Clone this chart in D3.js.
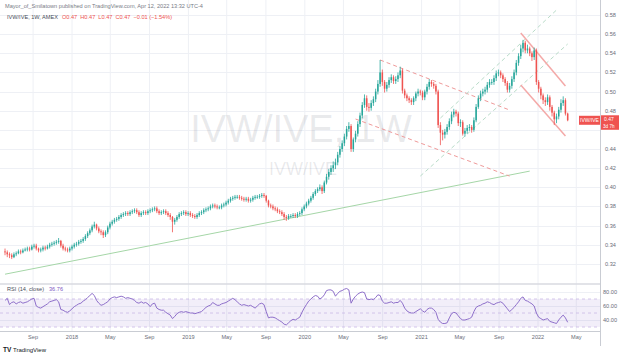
<!DOCTYPE html>
<html><head><meta charset="utf-8">
<script src="https://cdn.jsdelivr.net/npm/d3@7"></script>
<style>html,body{margin:0;padding:0;background:#fff;}svg{display:block;font-family:"Liberation Sans",Arial,sans-serif;}</style>
</head><body><svg id="c" width="624" height="356"></svg>
<script>
// ---------------- DATA ----------------
const startDate = "2017-06-05";   // first weekly bar
const firstOpen = 0.333;
const closes = [
0.332,0.330,0.329,0.327,0.330,0.331,0.333,0.332,0.334,0.335,
0.336,0.335,0.338,0.339,0.336,0.334,0.335,0.337,0.336,0.338,
0.340,0.341,0.342,0.343,0.344,0.339,0.336,0.335,0.334,0.336,
0.338,0.340,0.341,0.343,0.344,0.346,0.349,0.352,0.355,0.359,
0.361,0.357,0.354,0.353,0.350,0.353,0.358,0.362,0.364,0.366,
0.367,0.369,0.371,0.372,0.373,0.372,0.374,0.375,0.376,0.374,
0.371,0.373,0.374,0.373,0.375,0.376,0.377,0.378,0.375,0.373,
0.374,0.375,0.373,0.371,0.369,0.364,0.366,0.369,0.372,0.373,
0.374,0.372,0.373,0.371,0.370,0.369,0.371,0.373,0.374,0.376,
0.377,0.378,0.380,0.381,0.380,0.379,0.379,0.381,0.382,0.384,
0.386,0.388,0.389,0.390,0.390,0.389,0.388,0.387,0.388,0.386,
0.387,0.389,0.390,0.390,0.391,0.392,0.391,0.386,0.381,0.380,
0.378,0.377,0.375,0.374,0.372,0.369,0.368,0.370,0.370,0.371,
0.370,0.372,0.373,0.377,0.380,0.383,0.386,0.389,0.393,0.396,
0.398,0.400,0.396,0.405,0.411,0.416,0.420,0.423,0.426,0.434,
0.440,0.446,0.453,0.461,0.464,0.440,0.450,0.456,0.466,0.475,
0.486,0.493,0.484,0.483,0.488,0.492,0.500,0.508,0.520,0.510,
0.503,0.507,0.512,0.515,0.511,0.513,0.517,0.522,0.501,0.496,
0.493,0.491,0.489,0.493,0.498,0.500,0.499,0.494,0.500,0.505,
0.510,0.508,0.506,0.500,0.465,0.457,0.455,0.458,0.463,0.469,
0.476,0.479,0.477,0.467,0.468,0.456,0.459,0.462,0.463,0.460,
0.470,0.484,0.493,0.498,0.500,0.502,0.507,0.510,0.510,0.514,
0.519,0.520,0.517,0.513,0.509,0.502,0.506,0.513,0.520,0.530,
0.537,0.545,0.551,0.543,0.545,0.540,0.536,0.543,0.510,0.503,
0.496,0.491,0.489,0.494,0.484,0.478,0.471,0.474,0.481,0.488,
0.491,0.477,0.470];
const highs = [
.336,.334,.332,.331,.332,.333,.335,.335,.336,.337,
.338,.338,.340,.341,.341,.337,.337,.339,.339,.340,
.342,.343,.344,.345,.347,.345,.341,.338,.337,.338,
.340,.342,.343,.345,.346,.348,.351,.354,.357,.361,
.364,.362,.359,.356,.355,.355,.360,.364,.366,.368,
.369,.371,.373,.374,.375,.375,.376,.377,.378,.378,
.376,.375,.376,.376,.377,.378,.379,.380,.380,.377,
.376,.377,.377,.375,.373,.370,.368,.371,.374,.375,
.376,.376,.375,.375,.373,.372,.373,.375,.376,.378,
.379,.380,.382,.383,.383,.382,.381,.383,.384,.386,
.388,.390,.391,.392,.392,.392,.391,.390,.390,.390,
.389,.391,.392,.392,.393,.394,.394,.392,.387,.383,
.382,.380,.379,.377,.376,.374,.371,.372,.372,.373,
.373,.374,.375,.379,.382,.385,.388,.391,.395,.398,
.400,.403,.402,.407,.414,.419,.423,.427,.430,.437,
.443,.449,.456,.464,.468,.466,.452,.459,.469,.478,
.489,.497,.496,.488,.491,.495,.503,.512,.533,.523,
.512,.510,.515,.518,.517,.516,.520,.526,.524,.503,
.498,.495,.493,.495,.500,.503,.502,.501,.502,.508,
.513,.512,.510,.508,.502,.468,.460,.461,.466,.472,
.479,.482,.481,.479,.471,.470,.462,.465,.466,.465,
.473,.487,.496,.501,.503,.505,.510,.513,.513,.517,
.522,.523,.522,.519,.515,.511,.509,.516,.523,.533,
.540,.549,.554,.553,.549,.547,.542,.546,.545,.512,
.505,.498,.494,.497,.496,.486,.480,.477,.484,.492,
.495,.493,.478];
const lows = [
.329,.327,.326,.325,.326,.328,.330,.330,.331,.333,
.333,.333,.334,.336,.334,.332,.332,.333,.334,.335,
.336,.338,.339,.340,.341,.337,.334,.333,.332,.332,
.334,.336,.338,.339,.341,.342,.344,.347,.350,.353,
.357,.355,.352,.350,.347,.348,.351,.356,.360,.362,
.364,.365,.367,.369,.370,.370,.370,.372,.373,.372,
.369,.369,.371,.371,.371,.373,.374,.375,.373,.371,
.371,.372,.371,.369,.366,.353,.361,.364,.367,.370,
.371,.370,.370,.369,.368,.367,.367,.369,.371,.372,
.374,.375,.376,.378,.378,.377,.377,.377,.379,.380,
.382,.384,.386,.387,.388,.387,.386,.385,.385,.384,
.384,.385,.387,.388,.388,.389,.389,.384,.379,.378,
.376,.375,.373,.372,.370,.366,.365,.366,.368,.368,
.368,.368,.370,.371,.375,.378,.381,.384,.387,.391,
.394,.396,.393,.394,.403,.408,.413,.416,.419,.423,
.431,.437,.443,.450,.458,.437,.437,.447,.453,.463,
.472,.483,.480,.479,.480,.485,.489,.497,.505,.506,
.499,.500,.504,.509,.508,.508,.510,.514,.498,.493,
.490,.488,.486,.486,.490,.495,.496,.491,.491,.497,
.502,.505,.503,.497,.462,.444,.449,.451,.455,.460,
.466,.473,.474,.464,.463,.454,.453,.456,.459,.457,
.458,.468,.482,.490,.495,.497,.499,.504,.507,.507,
.511,.516,.514,.510,.506,.499,.499,.503,.510,.517,
.527,.534,.541,.540,.540,.537,.532,.533,.507,.499,
.492,.487,.485,.486,.480,.474,.465,.467,.471,.478,
.485,.475,.469];
const rsiValues = [
68,71,62,65,66,63,65,66,64,65,
66,68,70,71,60,58,57,59,61,63,
66,67,68,69,66,55,54,52,51,53,
56,59,61,63,64,67,69,72,75,78,
75,68,64,61,62,64,66,70,72,73,
72,73,74,73,71,72,71,70,68,65,
64,66,64,65,63,59,63,64,57,55,
54,54,51,49,47,42,45,49,51,52,
51,52,51,50,50,49,50,51,52,55,
58,60,61,65,63,61,61,63,64,65,
67,69,71,69,66,63,61,62,61,60,
61,59,57,60,63,64,62,52,43,44,
44,43,41,39,37,34,33,36,39,41,
40,42,44,51,57,62,67,70,73,75,
74,70,72,76,82,83,83,81,74,78,
81,82,84,85,83,64,70,74,77,79,
80,79,70,69,70,69,72,76,75,67,
64,64,65,66,64,65,65,68,64,57,
53,51,50,50,52,54,56,53,51,55,
57,57,55,51,41,37,35,35,36,43,
49,51,50,46,42,40,40,41,42,44,
52,58,60,61,63,64,66,65,63,62,
64,65,66,64,60,56,52,55,58,62,
66,71,73,68,67,65,63,60,50,44,
42,40,41,42,38,37,36,35,40,44,
47,43,36.76];
const priceTicks = [0.32,0.34,0.36,0.38,0.40,0.42,0.44,0.46,0.48,0.50,0.52,0.54,0.56,0.58];
const rsiTicks = [40,60,80];
const rsiBands = [70,50,30];
const timeTickDates = ["2017-09-01","2018-01-01","2018-05-01","2018-09-01","2019-01-01","2019-05-01","2019-09-01","2020-01-01","2020-05-01","2020-09-01","2021-01-01","2021-05-01","2021-09-01","2022-01-01","2022-05-01"];
const timeTickLabels = ["Sep","2018","May","Sep","2019","May","Sep","2020","May","Sep","2021","May","Sep","2022","May"];
// drawings: [date, price] endpoints
const greenTrend   = [["2017-06-05",0.3092],["2021-12-06",0.4169]];
const redDashUpper = [["2020-08-24",0.5330],["2021-10-04",0.4807]];
const redDashLower = [["2020-06-08",0.4713],["2021-10-04",0.4117]];
const greenDashA   = [["2021-03-01",0.4723],["2022-02-28",0.5852]];
const greenDashB   = [["2020-12-28",0.4117],["2022-04-04",0.5497]];
const redSolidUpper= [["2021-11-08",0.5612],["2022-03-28",0.5058]];
const redSolidLower= [["2021-11-08",0.5068],["2022-03-28",0.4535]];
const headerLine1 = "Mayor_of_Smilatown published on TradingView.com, Apr 12, 2022 13:32 UTC-4";
const symbolText = "IVW/IVE, 1W, AMEX";
const ohlcText = "O0.47  H0.47  L0.47  C0.47  −0.01 (−1.54%)";
const rsiTitle = "RSI (14, close)";
const rsiLast = "36.76";
const lastPriceText = "0.47";
const countdownText = "3d 7h";

// ---------------- SCALES ----------------
const parse = d3.timeParse("%Y-%m-%d");
const d0 = parse(startDate);
const dates = closes.map((c,i)=>d3.timeWeek.offset(d0,i));
const opens = closes.map((c,i)=> i===0 ? firstOpen : closes[i-1]);

const W = 624, H = 356, plotR = 600;
const x = d3.scaleTime().domain([parse("2018-01-01"), parse("2022-01-01")]).range([72,538]);
const y = d3.scaleLinear().domain([0.30,0.58]).range([283,15]);
const yr = d3.scaleLinear().domain([40,80]).range([320,292]);

const svg = d3.select("#c");
svg.append("rect").attr("width",W).attr("height",H).attr("fill","#fff");
const defs = svg.append("defs");
defs.append("clipPath").attr("id","mainClip").append("rect").attr("x",0).attr("y",0).attr("width",plotR).attr("height",283);
defs.append("clipPath").attr("id","rsiClip").append("rect").attr("x",0).attr("y",285).attr("width",plotR).attr("height",46);

const gridC = "#eef0f5";
svg.append("g").selectAll("line").data(timeTickDates).join("line")
  .attr("x1",d=>x(parse(d))).attr("x2",d=>x(parse(d)))
  .attr("y1",0).attr("y2",331).attr("stroke",gridC).attr("stroke-width",1);
svg.append("g").selectAll("line").data(priceTicks).join("line")
  .attr("x1",0).attr("x2",plotR).attr("y1",d=>Math.round(y(d))+0.5).attr("y2",d=>Math.round(y(d))+0.5)
  .attr("stroke",gridC);
svg.append("g").selectAll("line").data(rsiTicks).join("line")
  .attr("x1",0).attr("x2",plotR).attr("y1",d=>Math.round(yr(d))+0.5).attr("y2",d=>Math.round(yr(d))+0.5)
  .attr("stroke",gridC);

// header
svg.append("text").attr("x",5).attr("y",8).attr("font-size",5.6).attr("fill","#787b86").text(headerLine1);
const h2 = svg.append("text").attr("x",7).attr("y",19).attr("font-size",5.6);
h2.append("tspan").attr("fill","#4a4e59").text(symbolText);
h2.append("tspan").attr("fill","#ef5350").attr("dx",4).attr("xml:space","preserve").text(ohlcText);

// watermark
svg.append("text").attr("x",301).attr("y",142).attr("text-anchor","middle").attr("font-size",38)
  .attr("fill","rgba(120,123,134,0.16)").text("IVW/IVE, 1W");
svg.append("text").attr("x",303).attr("y",175).attr("text-anchor","middle").attr("font-size",18)
  .attr("fill","rgba(120,123,134,0.16)").text("IVW/IVE");

// drawings
const main = svg.append("g").attr("clip-path","url(#mainClip)");
function seg(pts, color, width, dash){
  main.append("line")
    .attr("x1",x(parse(pts[0][0]))).attr("y1",y(pts[0][1]))
    .attr("x2",x(parse(pts[1][0]))).attr("y2",y(pts[1][1]))
    .attr("stroke",color).attr("stroke-width",width).attr("stroke-dasharray",dash||null);
}
seg(greenTrend,"#a5d6a7",1);
seg(redDashUpper,"#ef9a9a",1,"4,3");
seg(redDashLower,"#ef9a9a",1,"4,3");
seg(greenDashA,"#b9dcc9",1,"4,3");
seg(greenDashB,"#b9dcc9",1,"4,3");
seg(redSolidUpper,"#f4a9a8",1.5);
seg(redSolidLower,"#f4a9a8",1.5);

// candles
const up = "#26a69a", dn = "#ef5350";
const cg = main.append("g");
const idx = d3.range(closes.length);
cg.selectAll("line.w").data(idx).join("line")
  .attr("x1",i=>x(dates[i])).attr("x2",i=>x(dates[i]))
  .attr("y1",i=>y(highs[i])).attr("y2",i=>y(lows[i]))
  .attr("stroke",i=>closes[i]>=opens[i]?up:dn).attr("stroke-width",0.8);
cg.selectAll("rect").data(idx).join("rect")
  .attr("x",i=>x(dates[i])-0.75).attr("width",1.5)
  .attr("y",i=>Math.min(y(opens[i]),y(closes[i])))
  .attr("height",i=>Math.max(0.8,Math.abs(y(opens[i])-y(closes[i]))))
  .attr("fill",i=>closes[i]>=opens[i]?up:dn);

// pane separators / axes
svg.append("line").attr("x1",0).attr("x2",plotR).attr("y1",284).attr("y2",284).attr("stroke","#d8dae0").attr("stroke-width",1.5);
svg.append("line").attr("x1",0).attr("x2",plotR).attr("y1",331.5).attr("y2",331.5).attr("stroke","#c9ccd3");
svg.append("line").attr("x1",600.5).attr("x2",600.5).attr("y1",0).attr("y2",346).attr("stroke","#c9ccd3");

// RSI pane
const rg = svg.append("g").attr("clip-path","url(#rsiClip)");
rg.append("rect").attr("x",0).attr("width",plotR).attr("y",yr(70)).attr("height",yr(30)-yr(70))
  .attr("fill","rgba(126,87,194,0.1)");
rg.selectAll("line.b").data(rsiBands).join("line")
  .attr("x1",0).attr("x2",plotR).attr("y1",d=>yr(d)).attr("y2",d=>yr(d))
  .attr("stroke","#c9b8e6").attr("stroke-width",0.8).attr("stroke-dasharray","3,3");
rg.append("path").datum(idx)
  .attr("d",d3.line().x(i=>x(dates[i])).y(i=>yr(rsiValues[i])))
  .attr("fill","none").attr("stroke","#8e6fca").attr("stroke-width",1);
const rt = svg.append("text").attr("x",7).attr("y",291).attr("font-size",5.6);
rt.append("tspan").attr("fill","#4a4e59").text(rsiTitle);
rt.append("tspan").attr("fill","#7e57c2").attr("dx",5).text(rsiLast);

// right axis labels (labels hidden under the last-price badge are skipped, as on the original)
const lastY = y(closes[closes.length-1]);
svg.append("g").selectAll("text").data(priceTicks.filter(d=>Math.abs(y(d)-(lastY+2))>9)).join("text")
  .attr("x",605).attr("y",d=>y(d)+2).attr("font-size",5.6).attr("fill","#6a6d78")
  .text(d=>d3.format(".2f")(d));
svg.append("g").selectAll("text").data(rsiTicks).join("text")
  .attr("x",603).attr("y",d=>yr(d)+2).attr("font-size",5.6).attr("fill","#6a6d78")
  .text(d=>d3.format(".2f")(d));
svg.append("g").selectAll("text").data(timeTickDates).join("text")
  .attr("x",d=>x(parse(d))).attr("y",339).attr("text-anchor","middle")
  .attr("font-size",5.6).attr("fill","#6a6d78").text((d,i)=>timeTickLabels[i]);

// last price labels
svg.append("rect").attr("x",579).attr("y",lastY-4.5).attr("width",21).attr("height",9).attr("fill","#ef5350");
svg.append("text").attr("x",589.5).attr("y",lastY+1.8).attr("text-anchor","middle").attr("font-size",5).attr("fill","#fff").text("IVW/IVE");
svg.append("rect").attr("x",601).attr("y",lastY-5).attr("width",18).attr("height",14.5).attr("fill","#ef5350");
svg.append("text").attr("x",604).attr("y",lastY+1).attr("font-size",5).attr("fill","#fff").text(lastPriceText);
svg.append("text").attr("x",603).attr("y",lastY+8).attr("font-size",4.6).attr("fill","#fff").text(countdownText);

// logo
svg.append("text").attr("x",3).attr("y",352).attr("font-size",6.5).attr("font-weight","bold").attr("fill","#131722").text("TV");
svg.append("text").attr("x",13).attr("y",352).attr("font-size",6).attr("fill","#131722").text("TradingView");
</script></body></html>
